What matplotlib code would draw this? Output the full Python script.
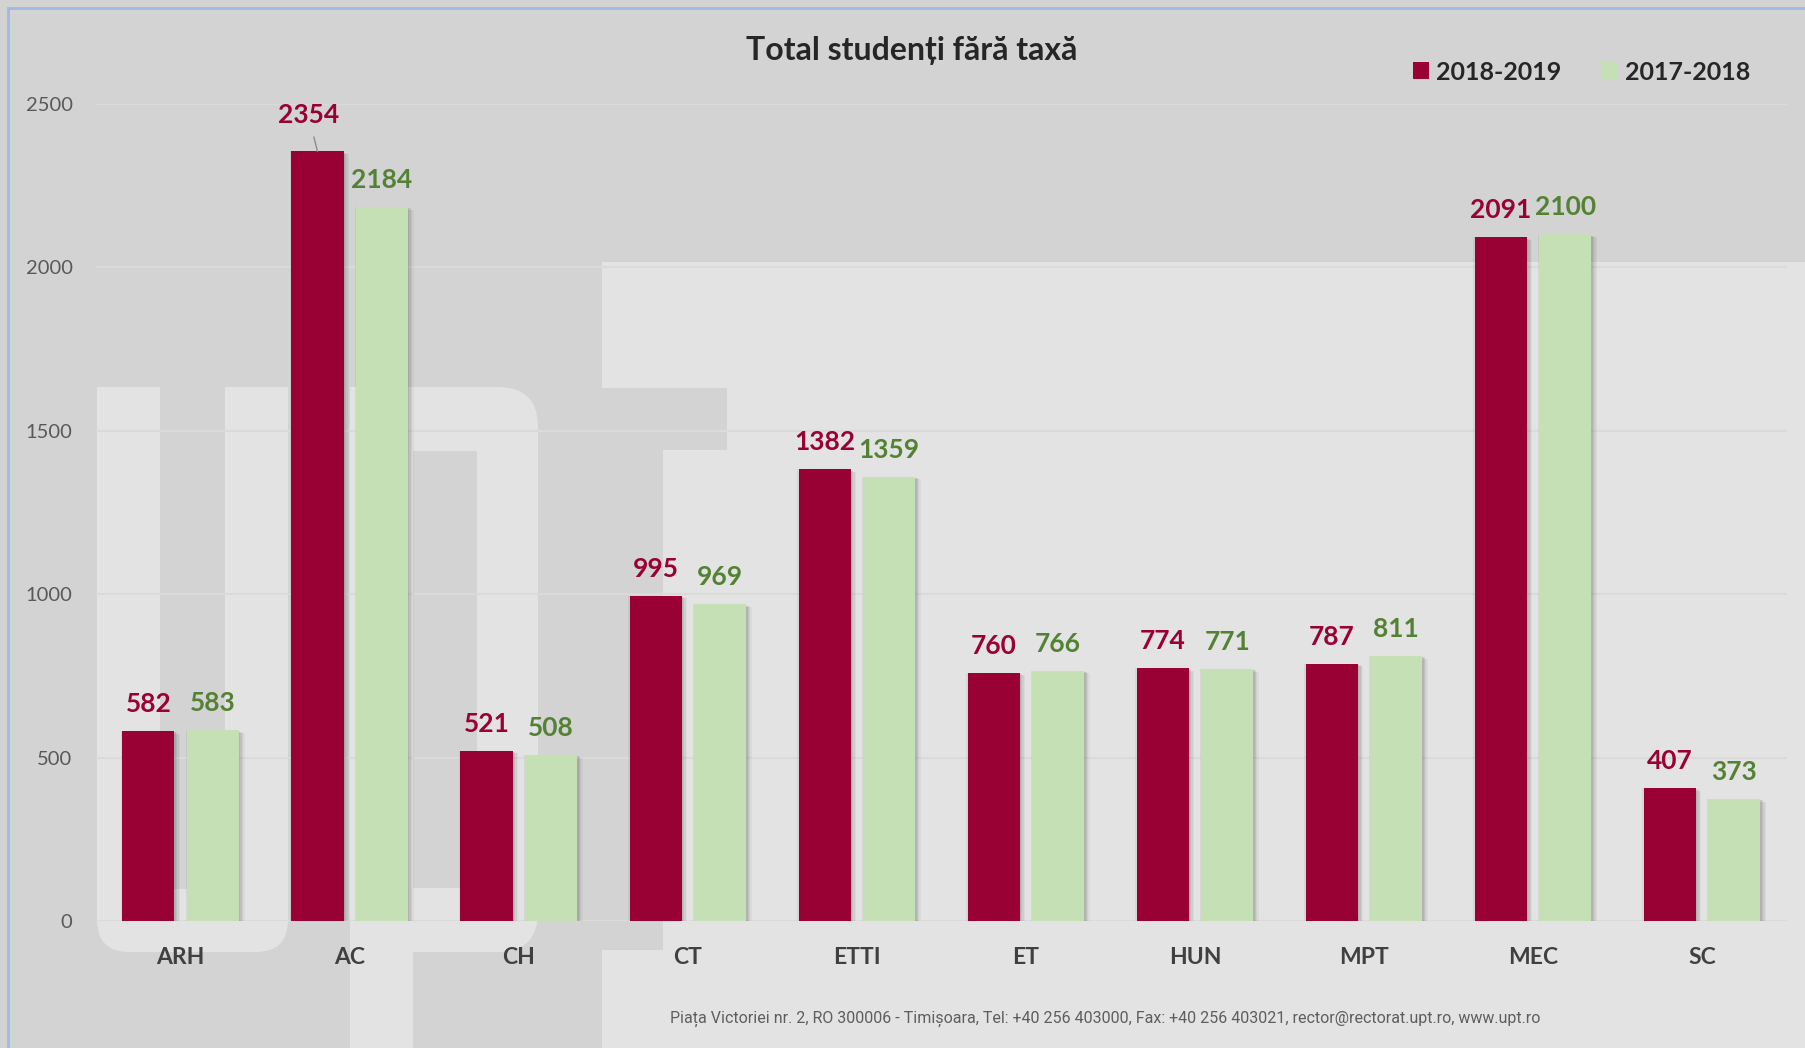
import matplotlib
matplotlib.use('Agg')
import matplotlib.pyplot as plt
import numpy as np
from matplotlib.patches import Rectangle, FancyBboxPatch, Polygon
from matplotlib.transforms import Affine2D
import matplotlib.patheffects as pe

# ---------------- data ----------------
categories = ['ARH', 'AC', 'CH', 'CT', 'ETTI', 'ET', 'HUN', 'MPT', 'MEC', 'SC']
values_2018_2019 = [582, 2354, 521, 995, 1382, 760, 774, 787, 2091, 407]
values_2017_2018 = [583, 2184, 508, 969, 1359, 766, 771, 811, 2100, 373]
series_labels = ['2018-2019', '2017-2018']
yticks = [0, 500, 1000, 1500, 2000, 2500]
title = 'Total studenți fără taxă'
footer = ('Piața Victoriei nr. 2, RO 300006 - Timișoara, Tel: +40 256 403000, '
          'Fax: +40 256 403021, rector@rectorat.upt.ro, www.upt.ro')

# ---------------- style ----------------
RED = '#990033'
GREEN = '#C5E0B4'
GREEN_TXT = '#548235'
GRAY_BG = '#d3d3d3'
LIGHT_BG = '#e3e3e3'
FONT = ['Lato', 'DejaVu Sans']

W, H = 1805, 1048
fig = plt.figure(figsize=(W / 100, H / 100), dpi=100)
fig.patch.set_facecolor(GRAY_BG)

# pixel coordinates with origin at top-left
pix = Affine2D().scale(1 / W, -1 / H).translate(0, 1) + fig.transFigure


def rect(x0, y0, x1, y1, color):
    fig.add_artist(Rectangle((x0, y0), x1 - x0, y1 - y0, transform=pix,
                             facecolor=color, edgecolor='none', zorder=-10))


def rrect(x0, y0, x1, y1, r, color):
    fig.add_artist(FancyBboxPatch((x0, y0), x1 - x0, y1 - y0,
                                  boxstyle=f'round,pad=0,rounding_size={r}',
                                  transform=pix, facecolor=color,
                                  edgecolor='none', zorder=-10))


# watermark "UPT"
# U
rrect(97, 860, 288, 952, 32, LIGHT_BG)
rect(97, 387, 160, 900, LIGHT_BG)
rect(224.5, 387, 288, 900, LIGHT_BG)
rect(160, 387, 224.5, 889, GRAY_BG)
# P
rrect(349.5, 387, 538, 952, 40, LIGHT_BG)
rect(413, 450.5, 477, 888, GRAY_BG)
rect(349.5, 387, 413, 1048, LIGHT_BG)
# T
fig.add_artist(Polygon([(602, 262), (W, 262), (W, H), (602, H), (602, 950),
                        (663, 950), (663, 450), (727, 450), (727, 388),
                        (602, 388)], closed=True, transform=pix,
                       facecolor=LIGHT_BG, edgecolor='none', zorder=-10))
# blue frame lines
fig.add_artist(plt.Line2D([8, W], [8, 8], transform=pix, color='#9dbbe0',
                          lw=2, zorder=-5))
fig.add_artist(plt.Line2D([8, 8], [8, H], transform=pix, color='#9dbbe0',
                          lw=2, zorder=-5))

# ---------------- axes ----------------
ax = fig.add_axes([96.2 / W, (H - 921) / H, (1786.6 - 96.2) / W, (921 - 103.7) / H])
ax.patch.set_alpha(0)
for s in ax.spines.values():
    s.set_visible(False)

x = np.arange(len(categories))
off = 0.191
bw = 0.308
shadow = [pe.SimplePatchShadow(offset=(-1, 0), shadow_rgbFace='#444444', alpha=0.08),
          pe.SimplePatchShadow(offset=(1, -1), shadow_rgbFace='#444444', alpha=0.10),
          pe.SimplePatchShadow(offset=(2, -1), shadow_rgbFace='#444444', alpha=0.10),
          pe.SimplePatchShadow(offset=(3, -2), shadow_rgbFace='#444444', alpha=0.08),
          pe.SimplePatchShadow(offset=(4, -2), shadow_rgbFace='#444444', alpha=0.05),
          pe.Normal()]
b1 = ax.bar(x - off, values_2018_2019, bw, color=RED, label=series_labels[0], zorder=3)
b2 = ax.bar(x + off, values_2017_2018, bw, color=GREEN, label=series_labels[1], zorder=3)
for b in list(b1) + list(b2):
    b.set_path_effects(shadow)

ax.set_xlim(-0.5, len(categories) - 0.5)
ax.set_ylim(0, 2500)
ax.set_yticks(yticks)
ax.set_yticklabels([str(t) for t in yticks])
ax.yaxis.grid(True, color='#dadada', lw=1.5, zorder=0)
ax.set_axisbelow(True)
ax.tick_params(axis='y', length=0, pad=17, labelsize=14.5, labelcolor='#595959')
for lab in ax.get_yticklabels():
    lab.set_family(FONT)
ax.set_xticks(x)
ax.set_xticklabels(categories)
ax.tick_params(axis='x', length=0, pad=19, labelsize=16.5, labelcolor='#404040')
for lab in ax.get_xticklabels():
    lab.set_family(FONT)
    lab.set_fontweight('bold')

# data labels
for i, v in enumerate(values_2018_2019):
    if categories[i] == 'AC':
        ax.annotate(str(v), xy=(x[i] - off, v), xytext=(-9, 28),
                    textcoords='offset pixels', ha='center', va='baseline',
                    fontsize=19, fontweight='bold', color=RED, family=FONT,
                    arrowprops=dict(arrowstyle='-', color='#8c8c8c', lw=1,
                                    shrinkA=5, shrinkB=0))
    else:
        ax.annotate(str(v), xy=(x[i] - off, v), xytext=(0, 19),
                    textcoords='offset pixels', ha='center', va='baseline',
                    fontsize=19, fontweight='bold', color=RED, family=FONT)
for i, v in enumerate(values_2017_2018):
    ax.annotate(str(v), xy=(x[i] + off, v), xytext=(0, 19),
                textcoords='offset pixels', ha='center', va='baseline',
                fontsize=19, fontweight='bold', color=GREEN_TXT, family=FONT)

# title
fig.text(912 / W, 1 - 50.6 / H, title, ha='center', va='center', fontsize=23,
         fontweight='bold', color='#262626', family=FONT)

# legend
leg = fig.legend(handles=[b1, b2], labels=series_labels, loc='center left',
                 bbox_to_anchor=(1413 / W, 1 - 72 / H), ncol=2, frameon=False,
                 prop=dict(family=FONT, weight='bold', size=18),
                 labelcolor='#262626', handlelength=0.64, handleheight=0.68,
                 handletextpad=0.28, columnspacing=1.64, borderpad=0,
                 borderaxespad=0)
for h in leg.legend_handles:
    h.set_path_effects([])

# footer
fig.text(1105 / W, 1 - 1019 / H, footer, ha='center', va='center', fontsize=11.5,
         color='#5e5e5e', family=['Roboto', 'DejaVu Sans'])

fig.savefig('out.png', dpi=100, facecolor=fig.get_facecolor())
